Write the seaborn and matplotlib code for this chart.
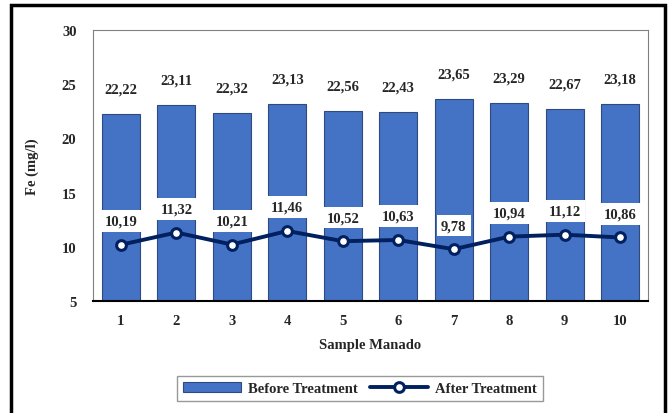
import matplotlib
matplotlib.use("Agg")
import matplotlib.pyplot as plt
import matplotlib.patches as patches
import seaborn as sns
import pandas as pd

samples = ["1", "2", "3", "4", "5", "6", "7", "8", "9", "10"]
before = [22.22, 23.11, 22.32, 23.13, 22.56, 22.43, 23.65, 23.29, 22.67, 23.18]
after = [10.19, 11.32, 10.21, 11.46, 10.52, 10.63, 9.78, 10.94, 11.12, 10.86]
yticks = [5, 10, 15, 20, 25, 30]

df = pd.DataFrame({"sample": samples, "before": before, "after": after})

sns.set_style("white")
plt.rcParams["font.family"] = ["Liberation Serif", "DejaVu Serif"]
plt.rcParams["font.weight"] = "bold"

fig = plt.figure(figsize=(6.7, 4.14), dpi=100)
ax = fig.add_axes([0.139, 0.2705, 0.828, 0.6546])

sns.barplot(data=df, x="sample", y="before", color="#4472C4", width=0.68,
            edgecolor="#2F4A80", linewidth=0.8, saturation=1,
            label="Before Treatment", ax=ax)
sns.pointplot(data=df, x="sample", y="after", color="#002060", markers="o",
              linewidth=2.8, markersize=7, markerfacecolor="white",
              markeredgewidth=2.2, label="After Treatment", ax=ax)

# value labels
for i, v in enumerate(before):
    ax.annotate(f"{v:.2f}".replace(".", ","), (i, v), xytext=(0, 18),
                textcoords="offset points", ha="center", va="center",
                fontsize=10.5, fontweight="bold",
                bbox=dict(boxstyle="square,pad=0.25", fc="white", ec="none"))
for i, v in enumerate(after):
    ax.annotate(f"{v:.2f}".replace(".", ","), (i, v), xytext=(0, 17),
                textcoords="offset points", ha="center", va="center",
                fontsize=10.5, fontweight="bold", zorder=5,
                bbox=dict(boxstyle="square,pad=0.3", fc="white", ec="none"))

ax.set_ylim(5, 30)
ax.set_yticks(yticks)
ax.set_xlim(-0.5, 9.5)
ax.tick_params(axis="both", length=0, labelsize=10.5)
ax.tick_params(axis="y", pad=12)
ax.tick_params(axis="x", pad=9)
for lab in ax.get_xticklabels() + ax.get_yticklabels():
    lab.set_fontweight("bold")
ax.set_xlabel("Sample Manado", fontsize=10.5, fontweight="bold", labelpad=8)
ax.set_ylabel("Fe (mg/l)", fontsize=10.5, fontweight="bold", labelpad=16)

for side in ["top", "left", "right"]:
    ax.spines[side].set_color("#808080")
    ax.spines[side].set_linewidth(0.8)
ax.spines["bottom"].set_color("black")
ax.spines["bottom"].set_linewidth(1.5)

handles, labels = ax.get_legend_handles_labels()
order = [labels.index("Before Treatment"), labels.index("After Treatment")]
handles = [handles[k] for k in order]
labels = [labels[k] for k in order]
if ax.get_legend() is not None:
    ax.get_legend().remove()
leg = fig.legend(handles, labels, loc="center", bbox_to_anchor=(0.537, 0.06),
                 ncol=2, fancybox=False, edgecolor="#808080",
                 handlelength=4.0, columnspacing=0.8, borderpad=0.4,
                 handletextpad=0.5, prop={"weight": "bold", "size": 10.5})
leg.get_frame().set_linewidth(1.0)

# outer frame
fig.patches.append(patches.Rectangle((0.017, -0.05), 0.975, 1.035,
                                     transform=fig.transFigure, fill=False,
                                     ec="black", lw=2.5))

fig.savefig("out.png", dpi=100)
